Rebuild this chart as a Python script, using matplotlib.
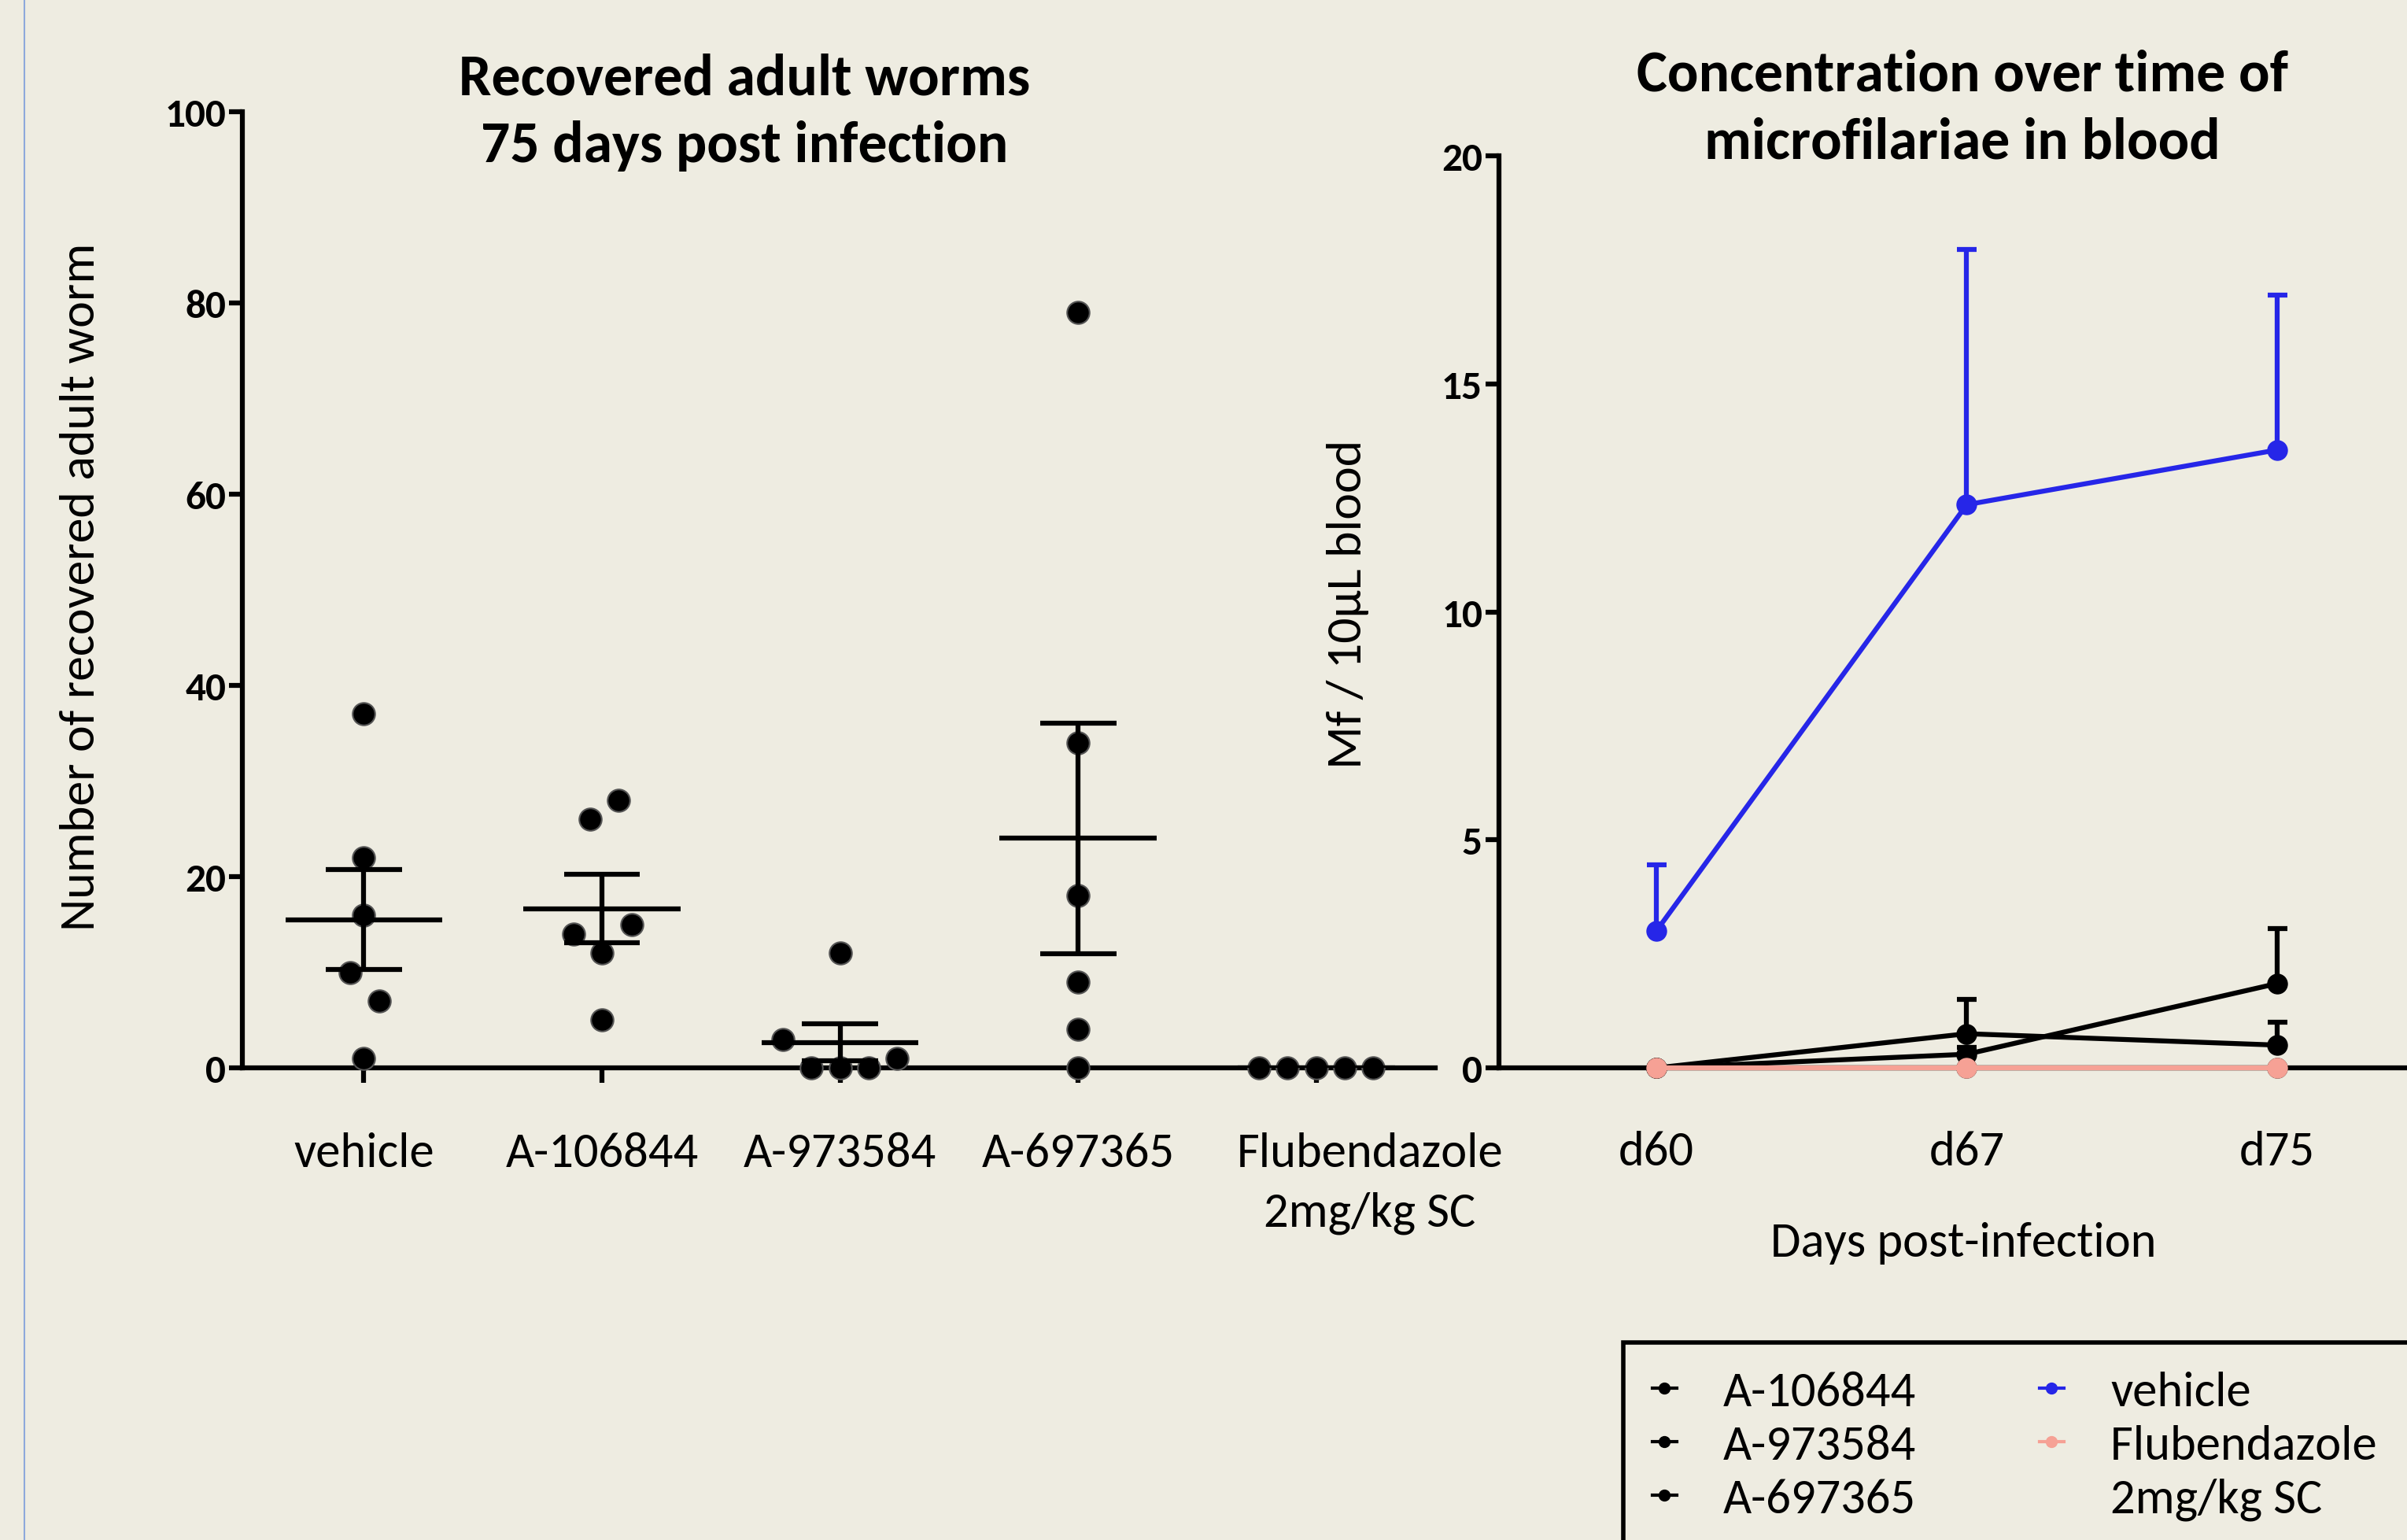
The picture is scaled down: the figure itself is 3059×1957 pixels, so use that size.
import numpy as np
import matplotlib.pyplot as plt
from matplotlib.lines import Line2D
from matplotlib.transforms import ScaledTranslation

plt.rcParams['font.family'] = ['Carlito', 'DejaVu Sans']

# ---- left panel: recovered adult worms, 75 days post infection ----
groups = ['vehicle', 'A-106844', 'A-973584', 'A-697365', 'Flubendazole\n2mg/kg SC']
worms_vehicle = [37, 22, 16, 10, 7, 1]
worms_a106844 = [26, 28, 14, 12, 15, 5]
worms_a973584 = [3, 0, 0, 0, 1, 12]
worms_a697365 = [79, 34, 18, 9, 4, 0]
worms_fluben = [0, 0, 0, 0, 0]

# ---- right panel: microfilariae in blood over time ----
days = ['d60', 'd67', 'd75']
mf_vehicle = [3.0, 12.35, 13.55]
mf_vehicle_sem = [1.45, 5.6, 3.4]
mf_a106844 = [0.0, 0.75, 0.5]
mf_a106844_sem = [0.0, 0.75, 0.5]
mf_a973584 = [0.0, 0.3, 1.85]
mf_a973584_sem = [0.0, 0.15, 1.2]
mf_a697365 = [0.0, 0.0, 0.0]
mf_a697365_sem = [0.0, 0.0, 0.0]
mf_fluben = [0.0, 0.0, 0.0]
mf_fluben_sem = [0.0, 0.0, 0.0]

bg = '#EEECE1'
blue = '#2626E8'
salmon = '#F6A195'

# horizontal scatter of the dots inside each column (layout only)
jitter = [
    [0, 0, 0, -0.056, 0.065, 0],
    [-0.05, 0.07, -0.12, 0, 0.125, 0],
    [-0.24, -0.12, 0, 0.12, 0.24, 0],
    [0, 0, 0, 0, 0, 0],
    [-0.24, -0.12, 0, 0.12, 0.24],
]

fig = plt.figure(figsize=(30.59, 19.58), dpi=100, facecolor=bg)

# slide border line on the left
fig.add_artist(Line2D([0.0102, 0.0102], [0, 1], transform=fig.transFigure,
                      color='#8EA9DB', lw=1.5))

# ================= left panel =================
ax1 = fig.add_axes([0.1007, 0.3064, 0.4956, 0.6206])
ax1.set_facecolor(bg)
all_worms = [worms_vehicle, worms_a106844, worms_a973584, worms_a697365, worms_fluben]
for i, vals in enumerate(all_worms):
    vals = np.array(vals, dtype=float)
    xs = i + np.array(jitter[i])
    mean = vals.mean()
    sem = vals.std(ddof=1) / np.sqrt(len(vals))
    ax1.scatter(xs, vals, s=420, color='black', edgecolors='#555555',
                linewidths=1.5, zorder=3, clip_on=False)
    ax1.hlines(mean, i - 0.33, i + 0.33, color='black', lw=4.5, zorder=4)
    if sem > 0:
        ax1.vlines(i, mean - sem, mean + sem, color='black', lw=4.5, zorder=4)
        ax1.hlines([mean - sem, mean + sem], i - 0.16, i + 0.16, color='black',
                   lw=4.5, zorder=4)

ax1.set_xlim(-0.51, 4.5)
ax1.set_ylim(0, 100)
ax1.set_yticks([0, 20, 40, 60, 80, 100])
ax1.set_xticks(range(len(groups)))
ax1.set_xticklabels(groups, fontsize=45, linespacing=1.5)
for lab in ax1.get_yticklabels():
    lab.set_fontweight('bold')
    lab.set_fontsize(37)
for s in ['top', 'right']:
    ax1.spines[s].set_visible(False)
for s in ['left', 'bottom']:
    ax1.spines[s].set_linewidth(4.5)
ax1.tick_params(axis='y', length=12, width=4.5, pad=3)
ax1.tick_params(axis='x', length=14, width=4.5, pad=44)
# the Flubendazole label sits a little right of its column in the original
last = ax1.get_xticklabels()[-1]
last.set_transform(last.get_transform() + ScaledTranslation(0.68, 0, fig.dpi_scale_trans))

fig.text(0.3093, 0.927, 'Recovered adult worms\n75 days post infection',
         ha='center', va='center', fontsize=53, fontweight='bold',
         linespacing=1.38)
fig.text(0.0337, 0.619, 'Number of recovered adult worm', rotation=90,
         ha='center', va='center', fontsize=46)

# ================= right panel =================
ax2 = fig.add_axes([0.6227, 0.3064, 0.3773, 0.592])
ax2.set_facecolor(bg)
x = np.arange(len(days))
series = [
    ('A-106844', mf_a106844, mf_a106844_sem, 'black'),
    ('A-973584', mf_a973584, mf_a973584_sem, 'black'),
    ('A-697365', mf_a697365, mf_a697365_sem, 'black'),
    ('vehicle', mf_vehicle, mf_vehicle_sem, blue),
    ('Flubendazole', mf_fluben, mf_fluben_sem, salmon),
]
for z, (name, vals, err, col) in enumerate(series):
    yerr = [np.zeros(len(err)), np.array(err)]
    ax2.errorbar(x, vals, yerr=yerr, color=col, lw=4.5, marker='o', ms=18,
                 mec=col, capsize=9, capthick=4.5, elinewidth=4.5, zorder=3 + z,
                 clip_on=False)

ax2.set_xlim(-0.507, 2.418)
ax2.set_ylim(0, 20)
ax2.set_yticks([0, 5, 10, 15, 20])
ax2.set_xticks(x)
ax2.set_xticklabels(days, fontsize=45)
for lab in ax2.get_yticklabels():
    lab.set_fontweight('bold')
    lab.set_fontsize(37)
for s in ['top', 'right']:
    ax2.spines[s].set_visible(False)
for s in ['left', 'bottom']:
    ax2.spines[s].set_linewidth(4.5)
ax2.tick_params(axis='y', length=12, width=4.5, pad=3)
ax2.tick_params(axis='x', length=8, width=4.5, pad=49)

fig.text(0.8153, 0.9295, 'Concentration over time of\nmicrofilariae in blood',
         ha='center', va='center', fontsize=53, fontweight='bold',
         linespacing=1.38)
fig.text(0.560, 0.608, 'Mf / 10\u00b5L blood', rotation=90,
         ha='center', va='center', fontsize=46)
fig.text(0.8156, 0.193, 'Days post-infection', ha='center', va='center',
         fontsize=45)

# legend (blank sixth entry carries the second line of the Flubendazole label)
handles = [Line2D([], [], color=col, lw=3, marker='o', ms=10)
           for _, _, _, col in series]
handles.append(Line2D([], [], color='none'))
labels = ['A-106844', 'A-973584', 'A-697365', 'vehicle', 'Flubendazole     ',
          '2mg/kg SC']
leg = fig.legend(handles, labels, loc='upper left',
                 bbox_to_anchor=(0.6745, 0.1282), borderaxespad=0, ncol=2,
                 fontsize=45, frameon=True, fancybox=False, edgecolor='black',
                 facecolor=bg, handlelength=0.5, handletextpad=0.95,
                 columnspacing=2.5, labelspacing=0.22, borderpad=0.58)
leg.get_frame().set_linewidth(4)
leg.get_frame().set_alpha(1)

fig.savefig('out.png', dpi=100, facecolor=bg)
